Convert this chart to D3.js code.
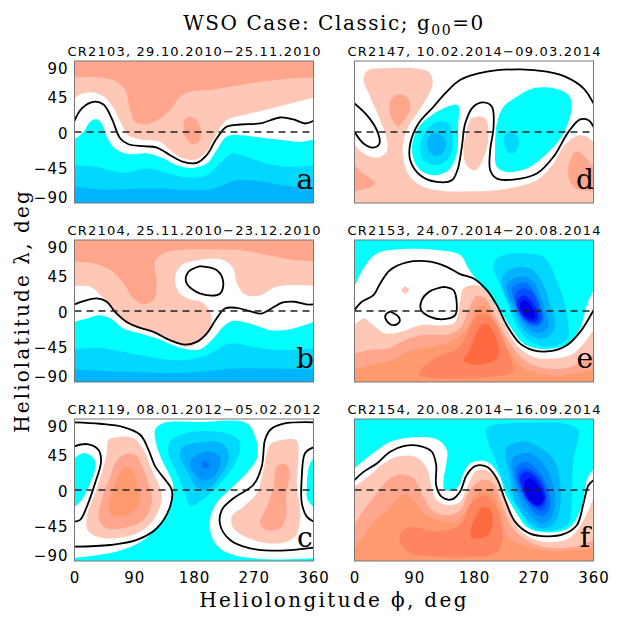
<!DOCTYPE html>
<html>
<head>
<meta charset="utf-8">
<script src="https://cdn.jsdelivr.net/npm/d3@7"></script>
<style>
body { margin: 0; background: #fff; }
svg { display: block; }
</style>
</head>
<body>
<script>
var lonTicks = [0, 90, 180, 270, 360];
var latTicks = [90, 45, 0, -45, -90];
var panelTitles = {
    a: "CR2103, 29.10.2010\u221225.11.2010",
    b: "CR2104, 25.11.2010\u221223.12.2010",
    c: "CR2119, 08.01.2012\u221205.02.2012",
    d: "CR2147, 10.02.2014\u221209.03.2014",
    e: "CR2153, 24.07.2014\u221220.08.2014",
    f: "CR2154, 20.08.2014\u221216.09.2014"
};
var levels = [-8, -7, -6, -5, -4, -3, -2, -1, 1, 2, 3, 4, 5];
var levelColors = ["#0000e8", "#0024ff", "#0050ff", "#0070ff", "#0094ff", "#00b4ff", "#00d8ff", "#00ffff",
                   "#ffc8b6", "#ffa68c", "#ff9a6e", "#ff8560", "#ff6a40"];

// filled contours: [level, how the outline closes, [lon, lat]...]
var fillsA = [
    [1, "top", [[0,43.4],[13.6,49],[31,49.8],[46,43.4],[59,30],[69,13],[81,-4],[99,-9.5],[129,-12.5],[144,-23],[164,-33.7],[182,-35],[199,-25],[214,-2],[229,15],[254.5,21.4],[285,27.7],[320,35],[360,43.4]]],
    [2, "top", [[0,69.2],[38.7,69.2],[63.8,63.7],[76.3,53.2],[83.8,27.7],[91.4,13],[104,9.5],[124,15],[144,27.7],[156.6,42.6],[174,51],[209,54],[249.5,59.5],[289.7,64.6],[330,68],[360,69.2]]],
    [2, "loop", [[174,19.3],[184,15],[191,-2],[187,-12.5],[177,-15.5],[168,-8],[164,4.5],[167,17]]],
    [-1, "bottom", [[0,-9.5],[13.6,0.2],[23.6,13],[33.6,16.3],[41,10.8],[48.7,-6],[61,-21],[81,-28],[109,-27],[134,-33.7],[154,-42],[177,-45.5],[199,-40],[214,-23],[229,-6],[249.5,-4],[280,-7],[315,-10.4],[340,-12.5],[360,-9.5]]],
    [-2, "bottom", [[0,-42.1],[33.6,-44.2],[74,-51.9],[109,-46.4],[139,-51.9],[171.7,-57.8],[199,-54.8],[219,-40],[237,-27.3],[259.5,-31.5],[289.7,-40],[325,-44.2],[360,-42.1]]],
    [-3, "bottom", [[0,-68.8],[38.7,-73],[89,-71.8],[139,-71.8],[174,-73.9],[209,-71.8],[244.6,-61.2],[285,-63.3],[325,-68.8],[360,-69.7]]]
];
var linesA = [
    [[0,14.2],[11,29.9],[28.6,38.3],[43.7,34.9],[56,17.2],[69,-8.3],[81.3,-15.5],[104,-18],[124,-19.7],[144,-29.4],[164,-37.9],[184,-39.2],[199,-29.4],[214,-8.3],[229,6.6],[249.5,9.5],[279.6,10.8],[310,18.4],[330,15.9],[347.6,10.8],[360,14.2]]
];

var fillsB = [
    [1, "top", [[0,31.6],[23.6,30.7],[43.7,15.9],[61.2,-1],[78.8,-15.9],[98.9,-22.2],[124,-28.6],[149,-39.2],[169,-45.5],[184,-41.3],[199,-28.6],[206.6,-15.9],[204,-1],[191.5,11.7],[174,15],[156.6,24.4],[151.6,43.4],[161.7,58.2],[189,64.6],[224,64.6],[239,54],[244.6,35],[257,21],[277,19.3],[304.6,30.7],[332.7,32.8],[360,31.6]]],
    [2, "top", [[0,62.5],[28.6,60.4],[53.7,51.9],[73.8,35],[88.9,15.9],[104,8.7],[119,13.8],[124,32.8],[121.5,62.5],[134,73],[159,77.3],[209,78],[249.5,77.3],[289.7,70.9],[330,64.6],[360,63.3]]],
    [-1, "bottom", [[0,-13.8],[18.6,-9.5],[38.6,-5.3],[56.2,-10.4],[73.8,-22.2],[98.9,-28.6],[124,-34.9],[149,-43.4],[169,-48.5],[189,-48.5],[209,-34.9],[224,-20],[239,-12.5],[264,-15.9],[294.5,-24.3],[324.5,-23],[360,-13.8]]],
    [-2, "bottom", [[0,-48.5],[38.6,-46.8],[74,-51.9],[114,-58.2],[159,-62.5],[199,-56],[234.4,-41.3],[269.5,-45.5],[309.6,-49.8],[360,-47.6]]],
    [-3, "bottom", [[0,-73.9],[48.7,-76.4],[89,-77.3],[149,-78.6],[199,-76.4],[239.5,-73],[289.7,-73],[360,-73.9]]]
];
var linesB = [
    [[0,8.3],[13.6,12.5],[33.6,15.9],[48.7,11.7],[61,-1],[78.8,-13.8],[98.9,-21.4],[119,-26.5],[144,-37],[166.7,-42.6],[184,-39.2],[199,-28.6],[214,-9.5],[226.6,3.2],[244,4],[264,-0.2],[281.6,-3.2],[296.6,3.2],[314,10.8],[331.7,11.7],[349,8.3],[360,8.3]],
    [[189,57],[214,51.9],[224,37],[219.5,22.2],[199,20],[179,26.5],[168,37],[171.7,49.8],[189,57]]
];

var fillsC = [
    [-1, "bottom", [[0,-86.2],[63.8,-78.1],[104,-63.3],[129,-42.1],[144,-21],[149,0.2],[146.5,12.9],[134,34],[124,55.3],[121.5,76.4],[134,84.9],[189,86.2],[259,84.9],[272,68],[275.5,42.6],[259.5,21.4],[239,4.5],[214,-16.7],[204,-37.9],[206.6,-59],[219,-73.9],[239.5,-82.4],[289.7,-87.9],[360,-86.6]]],
    [-1, "edge", [[0,40.5],[13.6,46.8],[28.6,40.5],[31,27.7],[23.6,8.7],[11,-12.5],[0,-21.8]]],
    [-1, "edge", [[360,40.5],[354,32],[350,8.7],[351,-12.5],[360,-21.8]]],
    [1, "loop", [[51.2,63.7],[63.8,67],[89,65.9],[104,51],[116.5,25.6],[129,2.3],[131.5,-12.5],[119,-37.9],[99,-52.7],[63.8,-61.2],[33.6,-59],[19.6,-50.6],[19.6,-29.4],[31,-4],[41,21.4],[48.7,46.8]]],
    [2, "loop", [[73.8,44.7],[91.4,44.7],[104,25.6],[114,0.2],[116.5,-16.7],[104,-37.9],[78.8,-47.2],[48.7,-48.5],[37,-37.9],[41,-12.5],[53.7,17.2],[61.2,34]]],
    [3, "loop", [[76.3,29],[86.3,25.6],[94.8,4.5],[98.9,-12.5],[89,-27.3],[66.3,-34.5],[53.7,-29.4],[53.7,-12.5],[63.8,12.9]]],
    [1, "loop", [[294.7,57.4],[314.7,63.7],[334.8,62.9],[337.4,42.6],[334.8,8.7],[339.9,-33.7],[332.3,-59],[309.6,-67.5],[269.5,-63.3],[239.5,-48.5],[237,-33.7],[254.5,-21],[274.6,-4],[284.7,25.6]]],
    [2, "loop", [[304.7,29.9],[317.3,33.3],[323.8,23.5],[318.8,-8.3],[318.8,-33.7],[309.6,-48.5],[289.7,-50.6],[279.6,-42.1],[289.7,-21],[299.8,4.5]]],
    [-2, "loop", [[144,61.6],[169,72.2],[209,74.3],[239.5,68.8],[249.5,59.5],[244.6,38.3],[224.5,12.9],[199.4,-8.3],[174.3,-20],[166.7,-4],[154,21.4],[141.6,46.8]]],
    [-3, "loop", [[184,59.5],[219,60.4],[233,44.7],[224.5,23.5],[199.4,1],[184,3.6],[171.7,21.4],[158.6,44.7],[165,55.3]]],
    [-4, "loop", [[184,44.7],[204.4,48.9],[219.5,40.5],[214.4,21.4],[196.8,11.7],[181.7,19.3],[174.3,36.2]]],
    [-5, "loop", [[196.8,37],[202.8,32],[196.8,27],[190.8,32]]]
];
var linesC = [
    [[0,85.8],[38.7,84],[73.8,79.8],[99,70],[111.5,51],[121.6,29.9],[136.6,12.9],[146.6,0.2],[144,-21],[124,-48.5],[94,-63.3],[54,-69.7],[0,-71.8]],
    [[0,55.3],[18.6,58.2],[36,51],[40,36.2],[31,8.7],[18.6,-21],[8.5,-37.9],[0,-40]],
    [[360,85.8],[315,84],[295,76.4],[287,63.7],[282,29.9],[269.5,6.6],[239.5,-10.4],[222,-25.2],[219.4,-44.2],[234.4,-63.3],[264.5,-73.9],[309.6,-76.9],[360,-73]],
    [[360,54],[347.4,46.8],[342.4,17.2],[342.4,-16.7],[349.9,-33.7],[360,-40]]
];

var fillsD = [
    [1, "bottom", [[0,-15.5],[13.6,-27.3],[33.6,-32.4],[48,-25.2],[49,-10.4],[38.9,15],[23.6,44.7],[13.6,68],[21,78.6],[49,80.7],[89,80.7],[111.5,76.4],[118,63.7],[111.5,46.8],[99,29.9],[83.8,10.8],[73.8,-10.4],[73.8,-35.8],[83.8,-57],[104,-69.7],[134,-74.7],[179,-75.2],[229.4,-71.8],[274.6,-61.2],[299.7,-40],[314.8,-18.8],[335,-4.9],[350,-6],[360,-13.3]]],
    [1, "loop", [[184,19.3],[197,17.2],[202,0.2],[197,-27.3],[182,-48.5],[169,-42.1],[164,-23],[169,2.3],[174,15]]],
    [2, "loop", [[69,48],[81.3,42.6],[84,29.9],[71,10.8],[66,6.6],[56,17.2],[52.2,32],[56,42.6]]],
    [2, "edge", [[0,-42],[13.6,-52.7],[31,-65.4],[13.6,-73],[0,-74.7]]],
    [2, "edge", [[360,-44.2],[344.6,-29.4],[334.6,-24.3],[324.5,-35.8],[322.5,-57],[333.6,-71.8],[360,-73.9]]],
    [-1, "loop", [[156,34],[156,6.6],[154,-27.3],[141.6,-48.5],[119,-54.8],[99,-48.5],[88,-31.5],[88,-10.4],[99,8.7],[124,25.6],[146.6,34]]],
    [-2, "loop", [[124,12.9],[141.6,10.8],[148,-10.4],[141.6,-33.7],[124,-42],[104,-35.8],[99,-18.8],[106.6,0.2]]],
    [-3, "loop", [[124,-1],[134,-6],[137.6,-16.7],[131.5,-27.3],[121.5,-30.3],[111.5,-23],[109,-12.5],[114,-4]]],
    [-1, "loop", [[269.6,55.3],[299.7,55.3],[322.3,46.8],[327.3,32],[314.8,-1.9],[289.7,-27.3],[259.5,-46.4],[229.4,-50.6],[214.4,-44.2],[211.8,-18.8],[214.4,10.8],[224.4,32],[244.5,44.7]]],
    [-2, "loop", [[237,1.5],[248,-10.4],[244.5,-23],[234.4,-27.3],[226,-16.7],[226,-4]]]
];
var linesD = [
    [[0,36.2],[18.6,21.4],[33.6,2.3],[37.6,-14.6],[28.6,-19.7],[13.6,-14.6],[0,0.2]],
    [[360,36.2],[344.9,55.3],[319.8,69.2],[289.7,76.4],[249.5,79.4],[199.4,76.4],[159,65.9],[136.6,48.9],[119,32],[96.4,10.8],[84,-14.6],[84,-35.8],[99,-54.8],[124,-63.3],[146.6,-61.2],[155,-48.5],[161.7,-18.8],[166.7,10.8],[179,32],[194.3,37.5],[207,32],[209.5,6.6],[204.4,-23],[204.4,-48.5],[214.4,-59],[239.5,-60.3],[274.6,-52.7],[299.7,-31.5],[322.3,0.2],[339.9,15.9],[352.5,15],[360,6.6]]
];

var fillsE = [
    [-1, "top", [[0,30.7],[13.6,54],[33.6,73],[73.8,78.6],[124,77.3],[159,70.9],[171.7,54],[184,39.2],[204,15.9],[219,1],[234.4,-20],[254.5,-41.3],[274.6,-47.6],[299.7,-47.6],[322.3,-41.3],[339.9,-22.2],[349.9,7.4],[360,26.5]]],
    [-2, "loop", [[209.4,54],[211.9,64.6],[229.5,72.2],[259.6,73],[284.7,68.8],[297.2,54],[307.3,32.8],[317.3,7.4],[322.3,-18],[320.8,-35],[294.7,-45.5],[269.6,-41.3],[249.5,-26.5],[237,-5.3],[229.5,11.7],[219.4,32.8]]],
    [-3, "loop", [[222,41.3],[232,51.9],[252,56],[272,49.8],[284.7,32.8],[294.7,7.4],[302.3,-13.7],[297.2,-28.6],[282.2,-35],[264.6,-30.7],[249.5,-18],[239.5,-1],[227,20]]],
    [-4, "loop", [[229.5,32.8],[239.5,41.3],[257,43.4],[272,35],[282.2,13.8],[289.7,-5.3],[292.2,-18],[282.2,-27.3],[267,-25.6],[252,-13.7],[242,3.2],[232,20]]],
    [-5, "loop", [[237,28.6],[247,35],[259.6,35],[272,22.2],[282.2,1],[284.7,-11.6],[274.6,-20],[262,-17],[249.5,-5.3],[242,11.7]]],
    [-6, "loop", [[241,20],[252,28.6],[267,24.4],[278.7,3.2],[282,-10.4],[274.6,-17],[259.6,-13.7],[247,1]]],
    [-7, "loop", [[244.5,12.5],[254.6,20],[265.6,13.8],[277,-3],[274.6,-13],[262,-13],[249.5,-3]]],
    [-8, "loop", [[249.5,7.4],[255.6,13.8],[264.6,8.3],[272,-3],[269.6,-10.4],[261,-8.7],[252,-1.9]]],
    [1, "bottom", [[0,-18],[13.6,-9.5],[28.6,-18],[46.2,-28.6],[69,-26.5],[99,-18],[134,-18],[151.6,-13.8],[159,11.7],[164,28.6],[184,32.8],[199.4,24.4],[214.4,3.2],[229.4,-22.2],[244.5,-43.4],[269.6,-58.2],[299.7,-60.3],[329.8,-54],[360,-24.3]]],
    [1, "loop", [[76.3,31],[82,26.5],[76.3,21.5],[70.5,26.5]]],
    [2, "bottom", [[0,-54],[25,-49],[50,-47.6],[75,-37],[100,-30.7],[145.6,-28.5],[160.6,-20],[171,-0.2],[184,19.3],[196.8,15.9],[209.3,-3.2],[224.4,-26.5],[239.5,-47.6],[259.6,-64.6],[289.7,-73],[324.8,-70.9],[360,-56]]],
    [3, "bottom", [[0,-74.3],[25,-68.8],[55,-62.4],[85,-49.7],[115.5,-45.5],[145.6,-39],[165.7,-26.4],[175.7,-13.7],[185.7,6],[196,6],[209,-10],[219.5,-28.6],[234.5,-51.9],[252,-70.9],[274.6,-78.6],[309.6,-81.5],[360,-75.2]]],
    [4, "loop", [[98,-81.5],[103,-71],[125.5,-58],[155.6,-47.6],[170.7,-26.4],[183,-7.4],[198,-4],[213,-16],[226,-41],[238.5,-77],[209,-83],[175.7,-85],[115,-85]]],
    [5, "loop", [[195.8,-15.8],[205.8,-22],[215.9,-41.3],[215.9,-58.2],[198.3,-66.7],[175.7,-67.9],[164.7,-62.4],[173.2,-49.7],[183.2,-28.5]]]
];
var linesE = [
    [[0,1],[11,11.7],[28.6,20],[38.7,35],[53.7,51.9],[78.8,61.6],[114,62.5],[139,56],[159,46.8],[179.4,41.3],[199.4,26.5],[214.4,7.4],[229.4,-18],[249.5,-41.3],[269.6,-49.8],[294.7,-51],[319.8,-43.4],[339.9,-26.5],[360,1]],
    [[134,30.7],[149,26.5],[154,9.5],[151.6,-5.3],[134,-10.4],[114,-7.4],[100.4,1],[101.4,13.8],[114,25.2],[134,30.7]],
    [[53.7,-0.7],[66.3,-7.4],[67.8,-13.8],[59,-18],[49,-12.9],[46.5,-5.3],[53.7,-0.7]]
];

var fillsF = [
    [-1, "top", [[0,27.3],[28.6,47.2],[53.7,61.2],[83.8,66.7],[124,64.2],[139,50.6],[138,31.6],[134,12.5],[135,1.9],[146.6,-1],[156.6,4],[164,21],[174,33.7],[189,37],[204,33.7],[219,16.7],[227,-4.4],[244.5,-29.8],[259.5,-46.8],[279.6,-53],[304.7,-53],[324.8,-46.8],[342.4,-21.4],[350,12.5],[360,27.3]]],
    [-2, "loop", [[198.8,78.1],[219,83.6],[269,85.3],[319.8,83.6],[337.4,76],[337.6,67.6],[329.8,37.9],[327.3,-12.9],[322.3,-42.6],[299.7,-51],[269.6,-48.9],[244.5,-21.4],[227,4],[214.4,33.7],[201.8,59]]],
    [-3, "loop", [[228.5,52.8],[239.5,59],[259.6,61.2],[284.7,50.6],[302.3,35.8],[309.8,10.4],[309.8,-19.2],[302.3,-40.4],[284.7,-48.9],[264.6,-40.4],[244.5,-19.2],[234.5,14.6]]],
    [-4, "loop", [[237,37.9],[247,45.1],[264.6,46.4],[282.2,35.8],[297.2,12.5],[302.3,-10.8],[297.2,-34],[282.2,-42.5],[264.6,-32],[249.5,-12.9],[239.5,14.6]]],
    [-5, "loop", [[242,27.3],[252,35],[264.6,33.7],[279.6,21],[292.2,-0.2],[294.7,-19.2],[287.2,-32],[274.6,-31],[259.6,-17.1],[247,4]]],
    [-6, "loop", [[247,21],[257,27.3],[269.6,23.1],[284.7,8.3],[289.7,-15],[284.7,-25.6],[272,-23.5],[257,-8.7],[248.5,8.3]]],
    [-7, "loop", [[249.5,16.8],[259.6,23.1],[272,16.8],[284.7,1.9],[287.2,-12.9],[279.6,-21.4],[269.6,-19.2],[257,-6.5]]],
    [-8, "loop", [[255.6,8.3],[262,14.6],[272,11.2],[282.2,-2.3],[284.7,-12.9],[277,-19.2],[267,-15.9],[257,-4.4]]],
    [1, "bottom", [[0,4],[23.6,18.9],[43.7,33.7],[68.8,43],[93.9,41.3],[109,27.3],[116.5,1.9],[124,-13],[141.6,-19.3],[159,-15],[169,1.9],[181.7,23],[194,26],[209,19],[222,-2.3],[234.4,-29.8],[249.5,-51],[274.6,-63.7],[299.7,-65.9],[324.8,-60.3],[344.9,-38.3],[360,-10.8]]],
    [2, "bottom", [[0,-44.7],[13.6,-25.6],[33.6,-4.4],[53.7,14.6],[71.3,20],[88.9,14.6],[104,-8.7],[116.5,-25.6],[139,-32],[159,-25.6],[174,-0.2],[194,13.3],[209,8.3],[221.9,-17],[237,-46.8],[259.5,-63.7],[289.7,-73],[329.8,-72],[360,-63.7]]],
    [3, "bottom", [[0,-74.3],[15,-57.4],[30,-40.4],[50,-25.6],[65,-10.8],[77.8,-5.3],[90.4,-15],[105.4,-29.9],[125.5,-38.3],[150.6,-40.4],[168,-27.7],[180.7,-6.6],[193,1.9],[208,-4.4],[221,-29.9],[231,-59.5],[249.5,-68],[289.7,-77.3],[360,-74.3]]],
    [4, "loop", [[67.8,-61.6],[72.8,-51],[87.9,-46.8],[115.5,-51.9],[140.6,-51],[160.6,-42.6],[175.7,-17.1],[195.8,-6.6],[210.8,-17.1],[220.9,-42.6],[221.9,-68],[210.8,-80.7],[170.7,-84.9],[115.5,-84],[80.3,-78.6]]],
    [5, "loop", [[193.3,-21.4],[203.3,-23.5],[208.3,-36.2],[203.3,-55.3],[188.3,-61.6],[175.7,-59.5],[175.7,-48.9],[183.2,-32]]]
];
var linesF = [
    [[0,12.5],[13.6,23],[33.6,33.7],[53.7,48.5],[73.8,55.7],[98.9,55.7],[116.5,48.5],[123,31.6],[123,6.1],[131.5,-8.7],[146.6,-12],[159,-2.3],[169,18.9],[181.7,30.3],[199.3,29.4],[214.4,14.6],[227,-12.9],[242,-40.4],[264.6,-55.3],[289.7,-58.7],[314.8,-56],[334.9,-44.7],[344.9,-17.1],[352.4,6.1],[360,12.5]]
];

var panels = [
    {id: "a", col: 0, row: 0, fills: fillsA, lines: linesA},
    {id: "b", col: 0, row: 1, fills: fillsB, lines: linesB},
    {id: "c", col: 0, row: 2, fills: fillsC, lines: linesC},
    {id: "d", col: 1, row: 0, fills: fillsD, lines: linesD},
    {id: "e", col: 1, row: 1, fills: fillsE, lines: linesE},
    {id: "f", col: 1, row: 2, fills: fillsF, lines: linesF}
];

var colLeft = [74.5, 354.5], colWidth = 239;
var rowTop = [61, 240, 419], rowHeight = 142;
var serif = "'DejaVu Serif', serif";
var sans = "'DejaVu Sans', sans-serif";

var color = d3.scaleOrdinal().domain(levels).range(levelColors);

var svg = d3.select("body").append("svg")
    .attr("width", 623)
    .attr("height", 623);

panels.forEach(function(p) {
    var x = d3.scaleLinear().domain([0, 360]).range([colLeft[p.col], colLeft[p.col] + colWidth]);
    var y = d3.scaleLinear().domain([-90, 90]).range([rowTop[p.row] + rowHeight, rowTop[p.row]]);

    var openLine = d3.line().x(function(d) { return x(d[0]); }).y(function(d) { return y(d[1]); })
        .curve(d3.curveCatmullRom);
    var loopLine = d3.line().x(function(d) { return x(d[0]); }).y(function(d) { return y(d[1]); })
        .curve(d3.curveCatmullRomClosed);

    // open outlines are shut along the frame
    var fillPath = function(f) {
        var pts = f[2];
        if (f[1] == "loop") return loopLine(pts);
        var d = openLine(pts);
        if (f[1] == "top") return d + "L" + x(360) + "," + y(90) + "L" + x(0) + "," + y(90) + "Z";
        if (f[1] == "bottom") return d + "L" + x(360) + "," + y(-90) + "L" + x(0) + "," + y(-90) + "Z";
        return d + "Z";
    };

    svg.append("clipPath").attr("id", "clip-" + p.id)
        .append("rect")
        .attr("x", x(0)).attr("y", y(90))
        .attr("width", x(360) - x(0)).attr("height", y(-90) - y(90));

    var g = svg.append("g").attr("class", "panel").attr("clip-path", "url(#clip-" + p.id + ")");

    g.selectAll(".fill")
        .data(p.fills)
        .enter().append("path")
        .attr("class", "fill")
        .attr("d", fillPath)
        .style("fill", function(d) { return color(d[0]); });

    g.selectAll(".contour")
        .data(p.lines)
        .enter().append("path")
        .attr("class", "contour")
        .attr("d", openLine)
        .style("fill", "none")
        .style("stroke", "#000")
        .style("stroke-width", 1.8);

    g.append("line")
        .attr("x1", x(0)).attr("x2", x(360))
        .attr("y1", y(0)).attr("y2", y(0))
        .style("stroke", "#222")
        .style("stroke-width", 1.4)
        .style("stroke-dasharray", "7,5");

    svg.append("rect")
        .attr("x", x(0)).attr("y", y(90))
        .attr("width", x(360) - x(0)).attr("height", y(-90) - y(90))
        .style("fill", "none")
        .style("stroke", "#777")
        .style("stroke-width", 1);

    svg.append("text")
        .attr("x", (x(0) + x(360)) / 2)
        .attr("y", y(90) - 5)
        .attr("text-anchor", "middle")
        .attr("textLength", 253)
        .attr("font-family", sans)
        .attr("font-size", 13)
        .text(panelTitles[p.id]);

    svg.append("text")
        .attr("x", x(347))
        .attr("y", y(-72))
        .attr("text-anchor", "middle")
        .attr("font-family", serif)
        .attr("font-size", 28)
        .text(p.id);

    if (p.col == 0) {
        var yAxis = d3.axisLeft(y).tickValues(latTicks)
            .tickFormat(function(d) { return d < 0 ? "\u2212" + (-d) : d; })
            .tickSize(0).tickPadding(6);
        var ya = svg.append("g").attr("transform", "translate(" + x(0) + ",0)").call(yAxis);
        ya.select(".domain").remove();
        ya.selectAll("text")
            .attr("font-family", sans)
            .attr("font-size", 15)
            .attr("fill", "#000")
            .style("letter-spacing", "1px")
            .attr("dy", function(d) { return d == 90 ? "0.85em" : d == -90 ? "-0.05em" : "0.4em"; });
    }
    if (p.row == 2) {
        var xAxis = d3.axisBottom(x).tickValues(lonTicks)
            .tickFormat(d3.format("d"))
            .tickSize(0).tickPadding(11);
        var xa = svg.append("g").attr("transform", "translate(0," + y(-90) + ")").call(xAxis);
        xa.select(".domain").remove();
        xa.selectAll("text")
            .attr("font-family", sans)
            .attr("font-size", 15)
            .attr("fill", "#000")
            .style("letter-spacing", "1px");
    }
});

var title = svg.append("text")
    .attr("x", 334).attr("y", 30)
    .attr("text-anchor", "middle")
    .attr("font-family", serif)
    .attr("font-size", 20)
    .style("letter-spacing", "1.55px");
title.append("tspan").text("WSO Case: Classic; g");
title.append("tspan").attr("dy", 5).attr("font-size", 14).text("00");
title.append("tspan").attr("dy", -5).text("=0");

svg.append("text")
    .attr("x", 334).attr("y", 607)
    .attr("text-anchor", "middle")
    .attr("font-family", serif)
    .attr("font-size", 20)
    .style("letter-spacing", "2.35px")
    .text("Heliolongitude \u03d5, deg");

svg.append("text")
    .attr("transform", "translate(29,311) rotate(-90)")
    .attr("text-anchor", "middle")
    .attr("font-family", serif)
    .attr("font-size", 20)
    .style("letter-spacing", "2.1px")
    .text("Heliolatitude \u03bb, deg");
</script>
</body>
</html>
